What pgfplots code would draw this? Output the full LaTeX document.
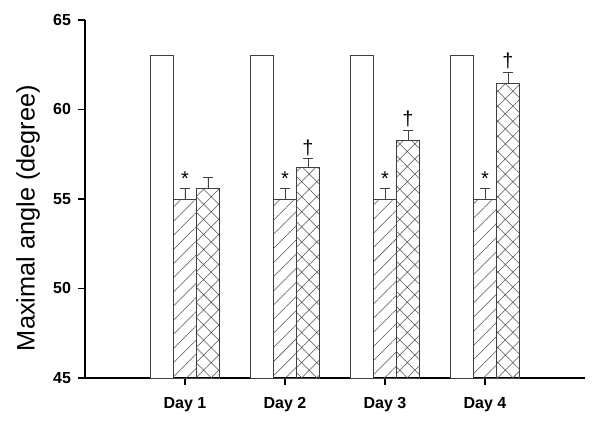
\documentclass[border=0pt]{standalone}
\usepackage{pgfplots}
\pgfplotsset{compat=1.18}
\usepackage{pgfplotstable}
\usepackage{fontspec}
\setmainfont{Liberation Sans}
\usetikzlibrary{patterns.meta}
\definecolor{barline}{HTML}{404040}
\definecolor{hatchc}{HTML}{505050}
\pgfplotstableread{
x y
0.77 63.0
1.77 63.0
2.77 63.0
3.77 63.0
}\ctrl
\pgfplotstableread{
x y e
1.0 55.0 0.6
2.0 55.0 0.6
3.0 55.0 0.6
4.0 55.0 0.6
}\hatched
\pgfplotstableread{
x y e
1.23 55.6 0.6
2.23 56.75 0.5
3.23 58.3 0.55
4.23 61.46 0.62
}\cross
\pgfplotstableread{
x y lab
1.0 55.6 *
2.0 55.6 *
3.0 55.6 *
4.0 55.6 *
2.23 57.25 \dag
3.23 58.85 \dag
4.23 62.08 \dag
}\marks
\begin{document}
\begin{tikzpicture}
\path[use as bounding box] (-63.75pt,-33.75pt) rectangle (386.25pt,283.5pt);
\begin{axis}[
  scale only axis,
  width=375pt, height=268.5pt,
  xmin=0, xmax=5, ymin=45, ymax=65,
  axis lines=left,
  axis line style={-, line width=1.2pt},
  xtick={1,2,3,4},
  xticklabels={Day 1, Day 2, Day 3, Day 4},
  ytick={45,50,55,60,65},
  tick align=outside,
  major tick length=5pt,
  tick style={line width=1.1pt, black},
  x tick label style={font=\bfseries\fontsize{12}{14}\selectfont, yshift=-6pt},
  y tick label style={font=\bfseries\fontsize{12}{14}\selectfont, xshift=-2pt},
  /pgf/number format/assume math mode=true,
  ylabel={Maximal angle (degree)},
  ylabel style={font=\fontsize{19}{22}\selectfont, at={(axis description cs:-0.114,0.447)}, anchor=center},
  ybar, bar width=0.23,
  clip=false,
]
\addplot[draw=barline, fill=white, line width=0.5pt, bar shift=0pt] table[x=x,y=y] {\ctrl};
\addplot[draw=barline, line width=0.5pt, bar shift=0pt,
  pattern={Lines[angle=45,distance=7.5pt,line width=0.4pt]}, pattern color=hatchc,
  error bars/.cd, y dir=plus, y explicit,
  error bar style={line width=0.5pt, barline},
  error mark options={rotate=90, mark size=3.4pt, line width=0.6pt, barline}]
  table[x=x,y=y,y error=e] {\hatched};
\addplot[draw=barline, line width=0.5pt, bar shift=0pt,
  pattern={Hatch[angle=45,distance=8pt,line width=0.4pt]}, pattern color=hatchc,
  error bars/.cd, y dir=plus, y explicit,
  error bar style={line width=0.5pt, barline},
  error mark options={rotate=90, mark size=3.4pt, line width=0.6pt, barline}]
  table[x=x,y=y,y error=e] {\cross};
\addplot[draw=none, fill=none, bar shift=0pt, bar width=0, nodes near coords, point meta=explicit symbolic,
  nodes near coords style={anchor=south, font=\fontsize{15}{17}\selectfont, inner sep=2pt}]
  table[x=x,y=y,meta=lab] {\marks};
\end{axis}
\end{tikzpicture}
\end{document}
